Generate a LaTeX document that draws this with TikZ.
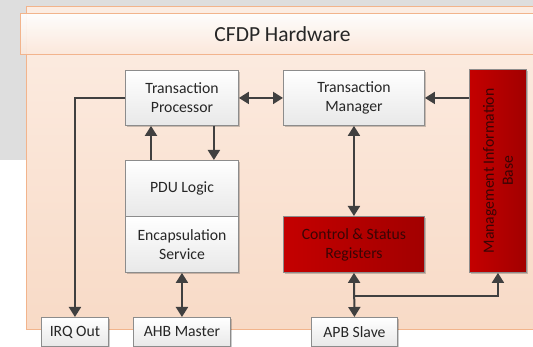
\documentclass[tikz,border=0pt]{standalone}
\usepackage{fontspec}
\setmainfont{Carlito}
\usetikzlibrary{arrows.meta,shadows}
\definecolor{bggray}{HTML}{DEDEDE}
\definecolor{contTop}{HTML}{FCEDE3}
\definecolor{contBot}{HTML}{F8DAC6}
\definecolor{contEdge}{HTML}{F2B48C}
\definecolor{lineCol}{HTML}{404040}
\definecolor{boxEdge}{HTML}{8C8C8C}
\definecolor{txtCol}{HTML}{262626}
\definecolor{redL}{HTML}{C40000}
\definecolor{redR}{HTML}{A20000}
\definecolor{redTxt}{HTML}{3A0505}
\tikzset{
  wbox/.style={draw=boxEdge, line width=0.9pt, top color=white, bottom color=black!9,
    anchor=north west, inner sep=0pt, align=center, text=txtCol,
    font=\fontsize{15.7}{19}\selectfont,
    drop shadow={shadow xshift=1.2pt, shadow yshift=-1.2pt, fill=black, opacity=0.2}},
  rbox/.style={wbox, left color=redL, right color=redR, text=redTxt},
  conn/.style={draw=lineCol, line width=2pt, -{Triangle[length=10pt,width=12pt]}},
  dconn/.style={draw=lineCol, line width=2pt, {Triangle[length=10pt,width=12pt]}-{Triangle[length=10pt,width=12pt]}}
}
\begin{document}
\begin{tikzpicture}[x=1pt,y=-1pt]
\useasboundingbox (0,0) rectangle (533,347);
\fill[white] (0,0) rectangle (533,347);
\fill[bggray] (0,0) rectangle (533,160);
% container
\path[top color=contTop, bottom color=contBot, draw=contEdge, line width=1pt] (26.5,6.5) rectangle (545,330);
% header band
\node[draw=contEdge, line width=1pt, top color=white, bottom color=contTop!70!contBot,
      anchor=north west, minimum width=524pt, minimum height=41pt, inner sep=0pt,
      text=txtCol, font=\fontsize{21.5}{25}\selectfont, fill opacity=0.92, text opacity=1]
      (hdr) at (20,13) {CFDP Hardware};
% boxes
\node[wbox, minimum width=113pt, minimum height=55pt] (tp) at (125,70) {Transaction\\Processor};
\node[wbox, minimum width=141pt, minimum height=55pt] (tm) at (283,70) {Transaction\\Manager};
\node[rbox, minimum width=57pt, minimum height=203pt] (mib) at (469,69) {};
\node[rotate=90, align=center, text=redTxt, font=\fontsize{15.7}{19}\selectfont] (mibt) at (mib.center) {Management Information\\Base};
\node[wbox, minimum width=113pt, minimum height=56pt] (pdu) at (125,160) {PDU Logic};
\node[wbox, minimum width=113pt, minimum height=56pt] (enc) at (125,216) {Encapsulation\\Service};
\node[rbox, minimum width=141pt, minimum height=56pt] (csr) at (283,216) {Control \& Status\\Registers};
\node[wbox, minimum width=67pt, minimum height=29pt] (irq) at (41,317) {IRQ Out};
\node[wbox, minimum width=97pt, minimum height=29pt] (ahb) at (133,317) {AHB Master};
\node[wbox, minimum width=86pt, minimum height=29pt] (apb) at (311,317) {APB Slave};
% connectors
\draw[dconn] (tp.east) -- (tm.west);
\draw[conn] (mib.west |- tm.east) -- (tm.east);
\draw[conn] (tp.west) -| (irq.north);
\draw[conn] ([xshift=26pt]pdu.north west) -- ([xshift=26pt]tp.south west);
\draw[conn] ([xshift=-25pt]tp.south east) -- ([xshift=-25pt]pdu.north east);
\draw[dconn] (enc.south) -- (ahb.north);
\draw[dconn] (tm.south) -- (csr.north);
\draw[dconn] (csr.south) -- (apb.north);
\coordinate (j) at (353.5,296);
\draw[conn] (j) -| (mib.south);
\end{tikzpicture}
\end{document}
